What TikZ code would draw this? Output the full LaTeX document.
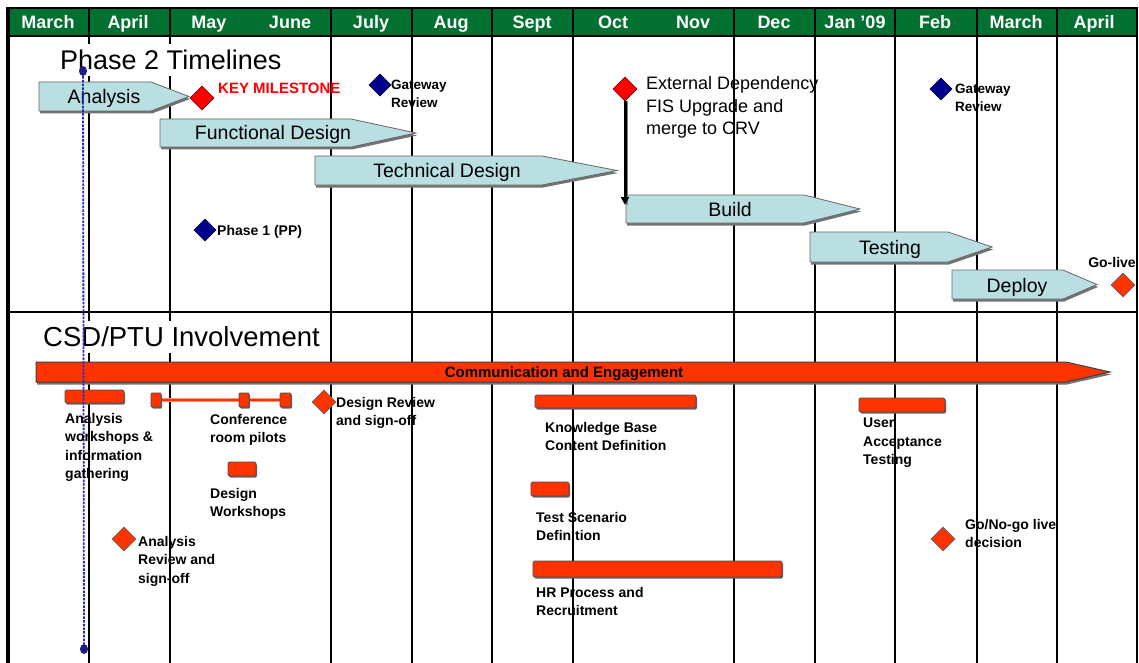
\documentclass[tikz,border=0pt]{standalone}
\usepackage{fontspec}
\setmainfont{Liberation Sans}
\usetikzlibrary{shapes.geometric,arrows.meta,shadows}
\definecolor{hdrgreen}{RGB}{2,112,48}
\definecolor{phasefill}{RGB}{185,223,226}
\definecolor{barorange}{RGB}{255,51,0}
\definecolor{msred}{RGB}{255,0,0}
\definecolor{msnavy}{RGB}{0,0,140}
\definecolor{dashblue}{RGB}{40,40,190}
\definecolor{pilotline}{RGB}{255,150,120}
% arrow-shaped bar: style, x left, x corner, x tip, y top, y bottom
\newcommand{\arrowshape}[6]{%
  \fill[black!55] (#2+1,#5+2.5) -- (#3+1,#5+2.5) -- (#4+1,{(#5+#6)/2+2.5}) -- (#3+1,#6+2.5) -- (#2+1,#6+2.5) -- cycle;
  \filldraw[#1] (#2,#5) -- (#3,#5) -- (#4,{(#5+#6)/2}) -- (#3,#6) -- (#2,#6) -- cycle;}
\tikzset{
  gridline/.style={line width=2.2pt, black},
  phasebody/.style={fill=phasefill, draw=black!60, line width=0.8pt},
  commbody/.style={fill=barorange, draw=black!75, line width=1pt},
  phaselabel/.style={font=\fontsize{19.5}{22}\selectfont, inner sep=0, anchor=base},
  hdrtext/.style={font=\fontsize{18}{20}\selectfont\bfseries, text=white, inner sep=0, anchor=base},
  ttl/.style={font=\fontsize{27}{30}\selectfont, fill=white, inner xsep=2pt, inner ysep=6pt, anchor=base west},
  lbltext/.style={font=\fontsize{14}{18.5}\selectfont\bfseries, inner sep=0, align=left, anchor=north west},
  lblline/.style={font=\fontsize{14}{18.5}\selectfont\bfseries, inner sep=0, anchor=base west},
  msbase/.style={diamond, aspect=1, minimum size=24pt, inner sep=0, line width=0.8pt},
  redms/.style={msbase, fill=msred, draw=red!50!black},
  navyms/.style={msbase, minimum size=22pt, fill=msnavy, draw=msnavy!60!black},
  orangems/.style={msbase, fill=barorange, draw=black!60},
  barbox/.style={rectangle, rounded corners=1.5pt, fill=barorange, draw=black!70, line width=0.8pt, inner sep=0,
    drop shadow={shadow xshift=1pt, shadow yshift=-1.5pt, fill=black!60, opacity=1}},
  bluedot/.style={ellipse, fill=dashblue!70!black, inner sep=0, minimum width=8pt, minimum height=10pt},
}
\begin{document}
\begin{tikzpicture}[x=1pt, y=-1pt]
\useasboundingbox (0,0) rectangle (1139,663);
\fill[white] (0,0) rectangle (1139,663);
% header
\fill[hdrgreen] (8,9) rectangle (1137,36);
\foreach \x in {89,170,331,412,492,573,734,815,895,977,1057}
  \draw[gridline] (\x,8) -- (\x,663);
\draw[line width=3.5pt] (8,7) -- (8,663);
\draw[line width=2.2pt] (1137,7) -- (1137,663);
\draw[line width=2pt] (7,8) -- (1138,8);
\draw[line width=2pt] (8,36) -- (1137,36);
\draw[line width=2.5pt] (8,312) -- (1137,312);
\foreach \x/\m in {48/March,128/April,209/May,290/June,371/July,451/Aug,532/Sept,613/Oct,693/Nov,774/Dec,855/{Jan '09},935/Feb,1016/March,1094/April}
  \node[hdrtext] (m\x) at (\x,28.5) {\m};
% titles
\node[ttl] (t1) at (58,69.5) {Phase 2 Timelines};
\node[ttl, font=\fontsize{27.5}{30}\selectfont] (t2) at (41,346.5) {CSD/PTU Involvement};
% phase arrows
\arrowshape{phasebody}{39}{151}{189}{82}{111}
\node[phaselabel] (analysis) at (104,104) {Analysis};
\arrowshape{phasebody}{160}{351}{416}{119}{147}
\node[phaselabel] (func) at (273,140) {Functional Design};
\arrowshape{phasebody}{315}{542}{617}{156}{185}
\node[phaselabel] (tech) at (447,177) {Technical Design};
\arrowshape{phasebody}{626}{804}{860}{195}{223}
\node[phaselabel] (build) at (730,216) {Build};
\arrowshape{phasebody}{810}{948}{992}{232}{262}
\node[phaselabel] (testing) at (890,254) {Testing};
\arrowshape{phasebody}{952}{1063}{1097}{270}{299}
\node[phaselabel] (deploy) at (1017,292) {Deploy};
% communication bar
\arrowshape{commbody}{36}{1066}{1110}{362}{382}
\node[font=\fontsize{15}{17}\selectfont\bfseries, inner sep=0, anchor=base] (comm) at (564,377.4) {Communication and Engagement};
% small bars
\node[barbox, minimum width=59pt, minimum height=13pt] (aw) at (94.5,396.5) {};
\node[barbox, minimum width=161pt, minimum height=13pt] (kb) at (615.5,401.5) {};
\node[barbox, minimum width=86pt, minimum height=14pt] (uat) at (902,405) {};
\node[barbox, minimum width=38pt, minimum height=14pt] (ts) at (550,489) {};
\node[barbox, minimum width=249pt, minimum height=16pt] (hr) at (657.5,569) {};
\node[barbox, minimum width=28pt, minimum height=14pt] (dw) at (242,469) {};
% conference room pilots
\coordinate (c1p) at (156,400);
\coordinate (c3p) at (285.5,400);
\draw[pilotline, line width=4.5pt] (c1p) -- (c3p);
\draw[barorange, line width=1.2pt] (c1p) -- (c3p);
\node[barbox, rounded corners=1pt, minimum width=10pt, minimum height=14pt] (c1) at (c1p) {};
\node[barbox, rounded corners=1pt, minimum width=10pt, minimum height=14pt] (c2) at (244,400) {};
\node[barbox, rounded corners=1pt, minimum width=11pt, minimum height=14pt] (c3) at (c3p) {};
% blue dashed today line
\node[bluedot] (bd1) at (83,71) {};
\node[bluedot] (bd2) at (84,649) {};
\draw[dashblue, line width=1.8pt, dash pattern=on 2.5pt off 1.2pt] (bd1) -- (bd2);
% milestones
\node[redms] (km) at (202,98) {};
\node[navyms] (gw1) at (380,85) {};
\node[navyms] (gw2) at (941,89) {};
\node[redms] (ext) at (625,89) {};
\node[navyms] (p1) at (205,230) {};
\node[orangems] (golive) at (1123,285) {};
\node[orangems] (dr) at (324,402) {};
\node[orangems] (ar) at (124,539) {};
\node[orangems] (gng) at (943,539) {};
% dependency arrow
\coordinate (buildcorner) at (625,205);
\draw[black!50, line width=1.5pt] ([xshift=2pt]ext.south) -- ([xshift=2pt]buildcorner);
\draw[line width=3pt, -{Triangle[length=8pt,width=8pt]}] (ext.south) -- (buildcorner);
% labels top
\node[font=\fontsize{15}{17}\selectfont\bfseries, text=msred, inner sep=0, anchor=base west] (kmt) at (218,93.4) {KEY MILESTONE};
\node[lbltext, font=\fontsize{13.5}{18}\selectfont\bfseries] (gw1t) at (391,80) {Gateway\\Review};
\node[lbltext, font=\fontsize{13.5}{18}\selectfont\bfseries] (gw2t) at (955,84) {Gateway\\Review};
\node[lbltext, font=\fontsize{18}{22.5}\selectfont] (extt) at (646,76.5) {External Dependency\\FIS Upgrade and\\merge to CRV};
\node[lblline] (p1t) at (217,235) {Phase 1 (PP)};
\node[lblline, anchor=base] (golivet) at (1112,267) {Go-live};
% labels bottom
\node[lbltext] (awt) at (65,413) {Analysis\\workshops \&\\information\\gathering};
\node[lbltext] (conft) at (210,414) {Conference\\room pilots};
\node[lbltext] (drt) at (336,397) {Design Review\\and sign-off};
\node[lbltext] (dwt) at (210,488) {Design\\Workshops};
\node[lbltext] (art) at (138,536) {Analysis\\Review and\\sign-off};
\node[lbltext] (kbt) at (545,422) {Knowledge Base\\Content Definition};
\node[lbltext] (uatt) at (863,418) {User\\Acceptance\\Testing};
\node[lbltext] (tst) at (536,512) {Test Scenario\\Definition};
\node[lbltext] (hrt) at (536,587) {HR Process and\\Recruitment};
\node[lbltext] (gngt) at (965,519) {Go/No-go live\\decision};
\end{tikzpicture}
\end{document}
